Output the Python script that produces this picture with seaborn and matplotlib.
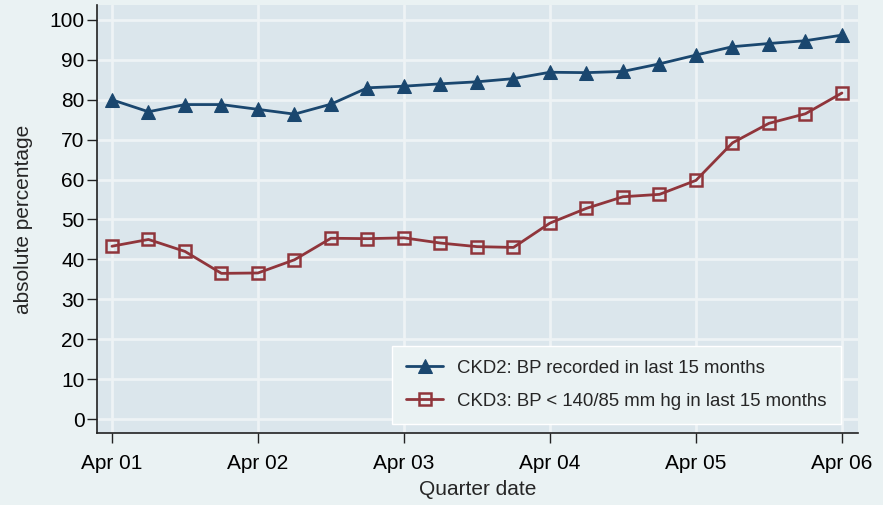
import matplotlib
matplotlib.use("Agg")
import matplotlib.pyplot as plt
import numpy as np
import pandas as pd
import seaborn as sns

# quarters from Apr 01 to Apr 06
quarter = list(range(21))
tick_pos = [0, 4, 8, 12, 16, 20]
tick_labels = ["Apr 01", "Apr 02", "Apr 03", "Apr 04", "Apr 05", "Apr 06"]

ckd2 = [80.0, 77.0, 78.8, 78.8, 77.6, 76.4, 78.9, 83.0, 83.4, 84.0, 84.5,
        85.3, 86.9, 86.8, 87.1, 89.0, 91.2, 93.3, 94.1, 94.8, 96.2]
ckd3 = [43.3, 45.0, 42.0, 36.5, 36.6, 39.9, 45.3, 45.2, 45.4, 44.1, 43.2,
        43.0, 49.1, 52.8, 55.7, 56.3, 59.8, 69.2, 74.1, 76.5, 81.7]

label2 = "CKD2: BP recorded in last 15 months"
label3 = "CKD3: BP < 140/85 mm hg in last 15 months"

navy = "#1a476f"
maroon = "#90353b"
outer_bg = "#eaf2f3"
plot_bg = "#dbe6ec"
grid_col = "#eef3f5"

sns.set_style("ticks")
plt.rcParams['font.family'] = ['Liberation Sans', 'DejaVu Sans']

df = pd.DataFrame({"quarter": quarter, "ckd2": ckd2, "ckd3": ckd3})

fig = plt.figure(figsize=(8.83, 5.05), dpi=100, facecolor=outer_bg)
ax = fig.add_axes([97 / 883, 1 - 433 / 505, (858 - 97) / 883, (433 - 5) / 505])
ax.set_facecolor(plot_bg)

sns.lineplot(data=df, x="quarter", y="ckd2", ax=ax, color=navy, linewidth=2,
             marker="^", markersize=10, markerfacecolor=navy,
             markeredgecolor=navy, label=label2, zorder=3)
sns.lineplot(data=df, x="quarter", y="ckd3", ax=ax, color=maroon, linewidth=2,
             marker="s", markersize=8, markerfacecolor="none",
             markeredgecolor=maroon, markeredgewidth=1.8, label=label3, zorder=3)

ax.set_xlim(-0.41, 20.44)
ax.set_ylim(-3.5, 103.75)
ax.set_xticks(tick_pos)
ax.set_xticklabels(tick_labels)
ax.set_yticks(np.arange(0, 101, 10))

ax.grid(True, color=grid_col, linewidth=2)
ax.set_axisbelow(True)
for s in ["top", "right"]:
    ax.spines[s].set_visible(False)
for s in ["left", "bottom"]:
    ax.spines[s].set_color("#222222")
    ax.spines[s].set_linewidth(1.2)
ax.tick_params(axis="both", direction="out", length=7, width=1, colors="#222222",
               labelsize=15, labelcolor="black", pad=2)
ax.tick_params(axis="x", pad=8)

ax.set_xlabel("Quarter date", fontsize=15, labelpad=5)
ax.set_ylabel("absolute percentage", fontsize=15, labelpad=12)

leg = ax.legend(loc="lower right", bbox_to_anchor=(0.9895, 0.0), fontsize=13.4,
                frameon=True, fancybox=False, handlelength=2.0, borderpad=0.75,
                labelspacing=0.85, handletextpad=0.75)
leg.get_frame().set_facecolor(outer_bg)
leg.get_frame().set_edgecolor("white")
leg.get_frame().set_alpha(1)

fig.savefig("out.png", dpi=100, facecolor=outer_bg)
